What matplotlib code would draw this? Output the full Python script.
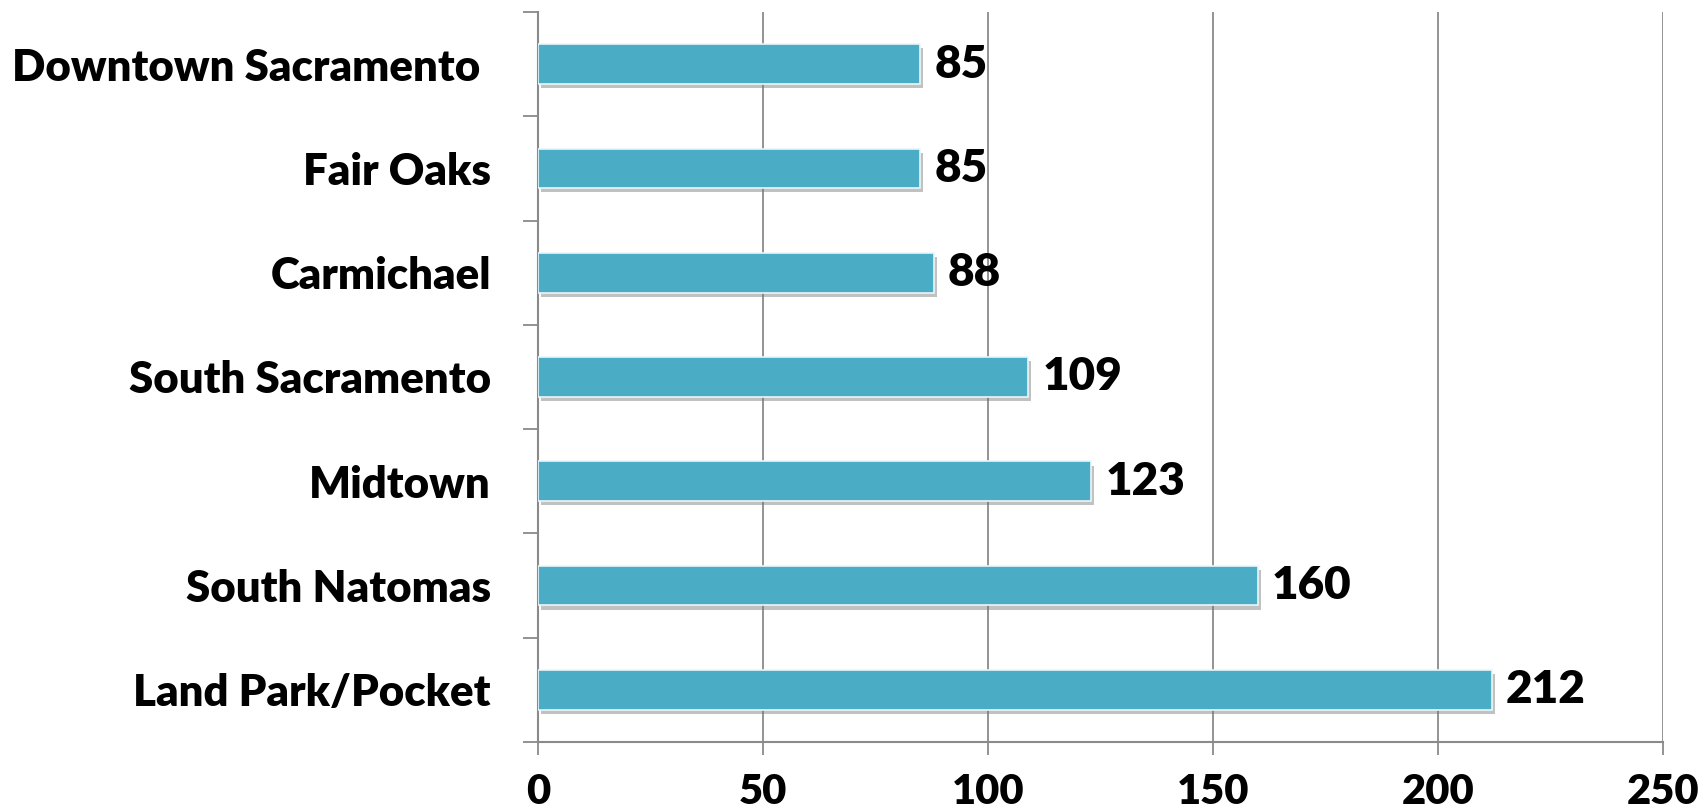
import matplotlib
matplotlib.use("Agg")
from matplotlib import pyplot as plt
from matplotlib import patheffects
import numpy as np

# neighbourhoods, listed top to bottom
places = ["Downtown Sacramento ", "Fair Oaks", "Carmichael", "South Sacramento",
          "Midtown", "South Natomas", "Land Park/Pocket"]
counts = [85, 85, 88, 109, 123, 160, 212]
xticks = [0, 50, 100, 150, 200, 250]

plt.rcParams['font.family'] = ['Lato', 'DejaVu Sans']

fig = plt.figure(figsize=(17.03, 8.10), dpi=100)
ax = fig.add_axes([0.3159, 0.0840, 0.9765 - 0.3159, 0.9852 - 0.0840])

grey = '#8a8a8a'
pos = np.arange(len(places))
bars = ax.barh(pos, counts, height=0.38, color='#4BACC6',
               edgecolor='#eaf6f9', linewidth=1.2, zorder=3)
for b in bars:
    b.set_path_effects([patheffects.SimplePatchShadow(offset=(2, -3), shadow_rgbFace='#777777', alpha=0.45),
                        patheffects.Normal()])

for y, v in zip(pos, counts):
    ax.annotate(str(v), (v, y), xytext=(10, 0), textcoords='offset points',
                ha='left', va='center', fontsize=33, fontweight='heavy', color='black')

ax.set_ylim(len(places) - 0.5, -0.5)
ax.set_xlim(0, 250)

ax.set_yticks(pos)
ax.set_yticklabels(places, fontsize=31.5, fontweight='heavy')
ax.set_yticks(np.arange(-0.5, len(places), 1), minor=True)
ax.tick_params(axis='y', which='major', length=0, pad=34)
ax.tick_params(axis='y', which='minor', length=11, width=1.3, color=grey, direction='out')

ax.set_xticks(xticks)
ax.set_xticklabels([str(t) for t in xticks], fontsize=30, fontweight='heavy')
ax.tick_params(axis='x', length=9, width=1.3, color=grey, direction='out', pad=13)

ax.xaxis.grid(True, color=grey, linewidth=1.3)
ax.set_axisbelow(True)

for side in ['top', 'right']:
    ax.spines[side].set_visible(False)
for side in ['left', 'bottom']:
    ax.spines[side].set_color(grey)
    ax.spines[side].set_linewidth(1.5)

fig.savefig("out.png", dpi=100, facecolor='white')
